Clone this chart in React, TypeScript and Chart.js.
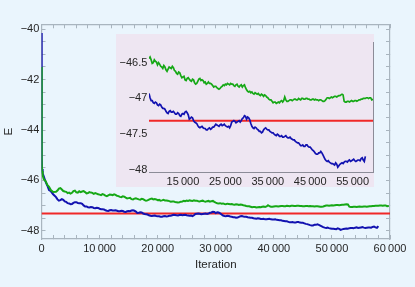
import React, { useEffect, useRef } from 'react';
import { Chart, registerables } from 'chart.js';

Chart.register(...registerables);

// ---------- data ----------
const iterations: number[] = [
  0, 20, 50, 100, 200, 400, 700, 1000, 1300, 1600, 2000,
  2500, 3000, 3500, 4000, 4500, 5000, 5500, 6000, 6500, 7000,
  7500, 8000, 8500, 9000, 9500, 10000, 10500, 11000, 11500, 12000,
  12500, 13000, 13500, 14000, 14500, 15000, 15500, 16000, 16500, 17000,
  17500, 18000, 18500, 19000, 19500, 20000, 20500, 21000, 21500, 22000,
  22500, 23000, 23500, 24000, 24500, 25000, 25500, 26000, 26500, 27000,
  27500, 28000, 28500, 29000, 29500, 30000, 30500, 31000, 31500, 32000,
  32500, 33000, 33500, 34000, 34500, 35000, 35500, 36000, 36500, 37000,
  37500, 38000, 38500, 39000, 39500, 40000, 40500, 41000, 41500, 42000,
  42500, 43000, 43500, 44000, 44500, 45000, 45500, 46000, 46500, 47000,
  47500, 48000, 48500, 49000, 49500, 50000, 50500, 51000, 51500, 52000,
  52500, 53000, 53500, 54000, 54500, 55000, 55500, 56000, 56500, 57000,
  57500, 58000, 58500, 59000, 59500,
  59800,
];

const greenEnergy: number[] = [
  -41.50, -44.60, -45.30, -45.62, -45.80, -45.95, -46.02, -46.18, -46.25, -46.38, -46.46,
  -46.45, -46.32, -46.36, -46.44, -46.50, -46.52, -46.42, -46.47, -46.43, -46.44,
  -46.46, -46.50, -46.48, -46.53, -46.52, -46.56, -46.54, -46.60, -46.59, -46.57,
  -46.55, -46.61, -46.65, -46.63, -46.68, -46.70, -46.74, -46.72, -46.73, -46.76,
  -46.74, -46.80, -46.76, -46.72, -46.74, -46.78, -46.80, -46.77, -46.79, -46.82,
  -46.83, -46.85, -46.87, -46.84, -46.81, -46.80, -46.79, -46.81, -46.80, -46.82,
  -46.81, -46.83, -46.82, -46.84, -46.81, -46.88, -46.91, -46.92, -46.93, -46.92,
  -46.94, -46.95, -46.94, -46.97, -46.96, -46.99, -47.02, -47.04, -47.05, -47.07,
  -47.05, -47.04, -47.05, -46.98, -47.04, -47.03, -47.02, -47.02, -47.01, -47.02,
  -47.01, -47.00, -47.01, -47.00, -47.01, -47.02, -47.01, -47.02, -47.02, -47.03,
  -47.02, -47.04, -47.03, -46.99, -47.00, -46.98, -46.98, -46.97, -46.97, -46.96,
  -46.94, -47.04, -47.05, -47.04, -47.04, -47.04, -47.03, -47.04, -47.02, -47.01,
  -47.00, -47.00, -46.99, -46.99, -47.02,
  -47.01,
];

const blueEnergy: number[] = [
  -40.15, -43.20, -45.10, -45.55, -45.72, -45.85, -46.05, -46.20, -46.38, -46.42, -46.55,
  -46.66, -46.80, -46.74, -46.83, -46.90, -46.94, -46.89, -46.86, -46.90, -46.93,
  -47.03, -47.06, -47.05, -47.09, -47.08, -47.12, -47.14, -47.18, -47.21, -47.17,
  -47.19, -47.20, -47.22, -47.21, -47.25, -47.21, -47.19, -47.20, -47.29, -47.26,
  -47.31, -47.34, -47.38, -47.41, -47.39, -47.42, -47.44, -47.42, -47.43, -47.40,
  -47.38, -47.37, -47.39, -47.36, -47.37, -47.38, -47.40, -47.41, -47.33, -47.31,
  -47.34, -47.32, -47.33, -47.28, -47.24, -47.29, -47.27, -47.35, -47.41, -47.40,
  -47.43, -47.46, -47.48, -47.44, -47.41, -47.44, -47.46, -47.48, -47.50, -47.52,
  -47.51, -47.53, -47.54, -47.53, -47.54, -47.55, -47.56, -47.58, -47.60, -47.62,
  -47.64, -47.66, -47.67, -47.65, -47.67, -47.68, -47.72, -47.75, -47.78, -47.76,
  -47.74, -47.79, -47.85, -47.88, -47.89, -47.91, -47.92, -47.90, -47.96, -47.92,
  -47.90, -47.89, -47.88, -47.87, -47.88, -47.86, -47.87, -47.87, -47.86, -47.84,
  -47.86, -47.81,
];

// in-between samples
const iterationsMid: number[] = [
  2750, 3250, 3750, 4250, 4750, 5250, 5750, 6250, 6750, 7250,
  7750, 8250, 8750, 9250, 9750, 10250, 10750, 11250, 11750, 12250,
  12750, 13250, 13750, 14250, 14750, 15250, 15750, 16250, 16750, 17250,
  17750, 18250, 18750, 19250, 19750, 20250, 20750, 21250, 21750, 22250,
  22750, 23250, 23750, 24250, 24750, 25250, 25750, 26250, 26750, 27250,
  27750, 28250, 28750, 29250, 29750, 30250, 30750, 31250, 31750, 32250,
  32750, 33250, 33750, 34250, 34750, 35250, 35750, 36250, 36750, 37250,
  37750, 38250, 38750, 39250, 39750, 40250, 40750, 41250, 41750, 42250,
  42750, 43250, 43750, 44250, 44750, 45250, 45750, 46250, 46750, 47250,
  47750, 48250, 48750, 49250, 49750, 50250, 50750, 51250, 51750, 52250,
  52750, 53250, 53750, 54250, 54750, 55250, 55750, 56250, 56750, 57250,
  57750, 58250, 58750, 59250,
];

const greenEnergyMid: number[] = [
  -46.40, -46.30, -46.42, -46.45, -46.48, -46.49, -46.40, -46.48, -46.46, -46.42,
  -46.51, -46.46, -46.49, -46.50, -46.55, -46.58, -46.56, -46.62, -46.56, -46.58,
  -46.57, -46.62, -46.66, -46.64, -46.71, -46.69, -46.75, -46.71, -46.75, -46.73,
  -46.78, -46.79, -46.73, -46.75, -46.75, -46.77, -46.79, -46.79, -46.80, -46.84,
  -46.83, -46.86, -46.86, -46.83, -46.82, -46.81, -46.80, -46.79, -46.80, -46.83,
  -46.80, -46.84, -46.81, -46.82, -46.85, -46.90, -46.90, -46.91, -46.94, -46.93,
  -46.93, -46.96, -46.95, -46.95, -46.98, -47.01, -47.02, -47.06, -47.05, -47.06,
  -47.06, -47.03, -47.03, -47.02, -47.04, -47.02, -47.03, -47.01, -47.02, -47.00,
  -47.02, -47.00, -47.01, -47.00, -47.01, -47.02, -47.01, -47.01, -47.02, -47.02,
  -47.03, -47.04, -47.01, -46.99, -46.99, -46.99, -46.97, -46.98, -46.96, -46.95,
  -46.95, -47.05, -47.04, -47.05, -47.03, -47.04, -47.03, -47.03, -47.02, -47.01,
  -47.00, -46.99, -47.00, -46.99,
];

const blueEnergyMid: number[] = [
  -46.75, -46.78, -46.77, -46.85, -46.91, -46.93, -46.86, -46.89, -46.90, -46.99,
  -47.03, -47.07, -47.06, -47.10, -47.09, -47.14, -47.15, -47.20, -47.18, -47.19,
  -47.18, -47.22, -47.20, -47.24, -47.22, -47.22, -47.18, -47.23, -47.28, -47.27,
  -47.33, -47.35, -47.40, -47.40, -47.41, -47.42, -47.44, -47.41, -47.42, -47.40,
  -47.36, -47.38, -47.37, -47.38, -47.36, -47.39, -47.39, -47.38, -47.32, -47.32,
  -47.33, -47.31, -47.31, -47.27, -47.25, -47.26, -47.30, -47.39, -47.42, -47.41,
  -47.44, -47.46, -47.47, -47.42, -47.43, -47.44, -47.47, -47.48, -47.51, -47.50,
  -47.53, -47.52, -47.54, -47.52, -47.55, -47.54, -47.57, -47.58, -47.61, -47.62,
  -47.66, -47.65, -47.67, -47.65, -47.68, -47.70, -47.73, -47.77, -47.78, -47.76,
  -47.76, -47.82, -47.87, -47.87, -47.90, -47.91, -47.93, -47.92, -47.94, -47.91,
  -47.91, -47.88, -47.89, -47.86, -47.87, -47.85, -47.88, -47.86, -47.87, -47.83,
  -47.88,
];

const referenceEnergy = -47.31;

// main plot axes
const mainXRange = [0, 60000];
const mainYRange = [-48.32, -39.81];
const mainXTicks = [
  0, 2000, 4000, 6000, 8000, 10000, 12000, 14000, 16000, 18000, 20000,
  22000, 24000, 26000, 28000, 30000, 32000, 34000, 36000, 38000, 40000,
  42000, 44000, 46000, 48000, 50000, 52000, 54000, 56000, 58000, 60000,
];
const mainXLabelTicks = [0, 10000, 20000, 30000, 40000, 50000, 60000];
const mainYTicks = [
  -48, -47.5, -47, -46.5, -46, -45.5, -45, -44.5, -44, -43.5, -43,
  -42.5, -42, -41.5, -41, -40.5, -40,
];
const mainYLabelTicks = [-48, -46, -44, -42, -40];

// inset axes
const insetXRange = [7000, 59800];
const insetYRange = [-48.035, -46.215];
const insetXTicks = [15000, 25000, 35000, 45000, 55000];
const insetYTicks = [-48, -47.5, -47, -46.5];

const xTitle = 'Iteration';
const yTitle = 'E';

// ---------- styles ----------
const BG = '#eaf5fd';
const INSET_BG = '#eee6f2';
const FRAME = '#a9b5bf';
const INSET_FRAME = '#8c8c98';
const TEXT = '#262626';
const GREEN = '#16a816';
const BLUE = '#1212b0';
const RED = '#f02828';
const FONT = "'Liberation Sans', Arial, sans-serif";

function fmt(v: number): string {
  const neg = v < 0;
  const a = Math.abs(v);
  let s: string;
  if (a >= 10000) {
    const t = String(Math.round(a));
    s = t.slice(0, t.length - 3) + '\u2009' + t.slice(-3);
  } else {
    s = String(a);
  }
  return (neg ? '\u2212' : '') + s;
}

function points(
  xs: number[], ys: number[], xs2: number[], ys2: number[], xmin = -Infinity,
) {
  const out: { x: number; y: number }[] = [];
  const n1 = Math.min(xs.length, ys.length);
  for (let i = 0; i < n1; i++) if (xs[i] >= xmin) out.push({ x: xs[i], y: ys[i] });
  const n2 = Math.min(xs2.length, ys2.length);
  for (let i = 0; i < n2; i++) if (xs2[i] >= xmin) out.push({ x: xs2[i], y: ys2[i] });
  out.sort((a, b) => a.x - b.x);
  return out;
}

const setTicks = (vals: number[]) => (scale: any) => {
  scale.ticks = vals.map((v) => ({ value: v }));
};

export default function App() {
  const mainRef = useRef<HTMLCanvasElement>(null);
  const insetRef = useRef<HTMLCanvasElement>(null);

  useEffect(() => {
    const font = { family: FONT, size: 11 };
    const frameGrid = {
      display: true,
      drawOnChartArea: false,
      drawTicks: true,
      tickLength: -4,
      color: FRAME,
      tickColor: FRAME,
      lineWidth: 1,
    };
    const frameBorder = { display: true, color: FRAME, width: 1.2 };

    const greenMain = points(iterations, greenEnergy, iterationsMid, greenEnergyMid);
    const blueMain = points(iterations, blueEnergy, iterationsMid, blueEnergyMid);
    const greenInset = points(iterations, greenEnergy, iterationsMid, greenEnergyMid, insetXRange[0]);
    const blueInset = points(iterations, blueEnergy, iterationsMid, blueEnergyMid, insetXRange[0]);

    const main = new Chart(mainRef.current!, {
      type: 'line',
      data: {
        datasets: [
          { data: greenMain, borderColor: GREEN, borderWidth: 2, pointRadius: 0, tension: 0 },
          { data: blueMain, borderColor: BLUE, borderWidth: 2, pointRadius: 0, tension: 0 },
          {
            data: [
              { x: mainXRange[0], y: referenceEnergy },
              { x: mainXRange[1], y: referenceEnergy },
            ],
            borderColor: RED,
            borderWidth: 2,
            pointRadius: 0,
          },
        ],
      },
      options: {
        animation: false,
        responsive: false,
        events: [],
        layout: { padding: 0 },
        plugins: { legend: { display: false }, tooltip: { enabled: false } },
        scales: {
          x: {
            type: 'linear',
            position: 'bottom',
            min: mainXRange[0],
            max: mainXRange[1],
            afterBuildTicks: setTicks(mainXTicks),
            afterFit: (s: any) => { s.height = 48; },
            ticks: {
              autoSkip: false,
              maxRotation: 0,
              minRotation: 0,
              padding: 7.4,
              color: TEXT,
              font,
              callback: (v: any) => (mainXLabelTicks.includes(v) ? fmt(v) : ''),
            },
            grid: frameGrid,
            border: frameBorder,
            title: {
              display: true,
              text: xTitle,
              color: TEXT,
              font: { family: FONT, size: 11.5 },
              padding: { top: 0, bottom: 15 },
            },
          },
          x2: {
            type: 'linear',
            position: 'top',
            min: mainXRange[0],
            max: mainXRange[1],
            afterBuildTicks: setTicks(mainXTicks),
            afterFit: (s: any) => { s.height = 24.3; },
            ticks: { display: false, autoSkip: false },
            grid: frameGrid,
            border: frameBorder,
          },
          y: {
            type: 'linear',
            position: 'left',
            min: mainYRange[0],
            max: mainYRange[1],
            afterBuildTicks: setTicks(mainYTicks),
            afterFit: (s: any) => { s.width = 41.5; },
            ticks: {
              autoSkip: false,
              padding: 6.2,
              color: TEXT,
              font,
              callback: (v: any) => (mainYLabelTicks.includes(v) ? fmt(v) : ''),
            },
            grid: frameGrid,
            border: frameBorder,
            title: {
              display: true,
              text: yTitle,
              color: TEXT,
              font: { family: FONT, size: 11.5 },
              padding: { top: 1.6, bottom: 0 },
            },
          },
          y2: {
            type: 'linear',
            position: 'right',
            min: mainYRange[0],
            max: mainYRange[1],
            afterBuildTicks: setTicks(mainYTicks),
            afterFit: (s: any) => { s.width = 25; },
            ticks: { display: false, autoSkip: false },
            grid: frameGrid,
            border: frameBorder,
          },
        },
      },
    } as any);

    const inset = new Chart(insetRef.current!, {
      type: 'line',
      data: {
        datasets: [
          { data: greenInset, borderColor: GREEN, borderWidth: 1.7, pointRadius: 0, tension: 0 },
          { data: blueInset, borderColor: BLUE, borderWidth: 1.7, pointRadius: 0, tension: 0 },
          {
            data: [
              { x: insetXRange[0], y: referenceEnergy },
              { x: insetXRange[1], y: referenceEnergy },
            ],
            borderColor: RED,
            borderWidth: 2,
            pointRadius: 0,
          },
        ],
      },
      options: {
        animation: false,
        responsive: false,
        events: [],
        layout: { padding: 0 },
        plugins: { legend: { display: false }, tooltip: { enabled: false } },
        scales: {
          x: {
            type: 'linear',
            position: 'bottom',
            min: insetXRange[0],
            max: insetXRange[1],
            afterBuildTicks: setTicks(insetXTicks),
            afterFit: (s: any) => { s.height = 14.5; },
            ticks: {
              autoSkip: false,
              maxRotation: 0,
              minRotation: 0,
              padding: 2.9,
              color: TEXT,
              font,
              callback: (v: any) => fmt(v),
            },
            grid: { display: true, drawOnChartArea: false, drawTicks: false },
            border: { display: true, color: INSET_FRAME, width: 1 },
          },
          y: {
            type: 'linear',
            position: 'left',
            min: insetYRange[0],
            max: insetYRange[1],
            afterBuildTicks: setTicks(insetYTicks),
            afterFit: (s: any) => { s.width = 33; },
            ticks: {
              autoSkip: false,
              padding: 1.7,
              color: TEXT,
              font,
              callback: (v: any) => fmt(v),
            },
            grid: { display: true, drawOnChartArea: false, drawTicks: false },
            border: { display: false },
          },
          y2: {
            type: 'linear',
            position: 'right',
            min: insetYRange[0],
            max: insetYRange[1],
            afterFit: (s: any) => { s.width = 1; },
            ticks: { display: false },
            grid: { display: true, drawOnChartArea: false, drawTicks: false },
            border: { display: true, color: INSET_FRAME, width: 1 },
          },
        },
      },
    } as any);

    return () => {
      main.destroy();
      inset.destroy();
    };
  }, []);

  return (
    <div
      style={{
        position: 'absolute',
        left: 0,
        top: 0,
        width: 415,
        height: 287,
        background: BG,
        overflow: 'hidden',
      }}
    >
      <canvas
        ref={mainRef}
        width={415}
        height={287}
        style={{ position: 'absolute', left: 0, top: 0, width: 415, height: 287 }}
      />
      <canvas
        ref={insetRef}
        width={258}
        height={153}
        style={{
          position: 'absolute',
          left: 116,
          top: 34,
          width: 258,
          height: 153,
          background: INSET_BG,
        }}
      />
    </div>
  );
}
